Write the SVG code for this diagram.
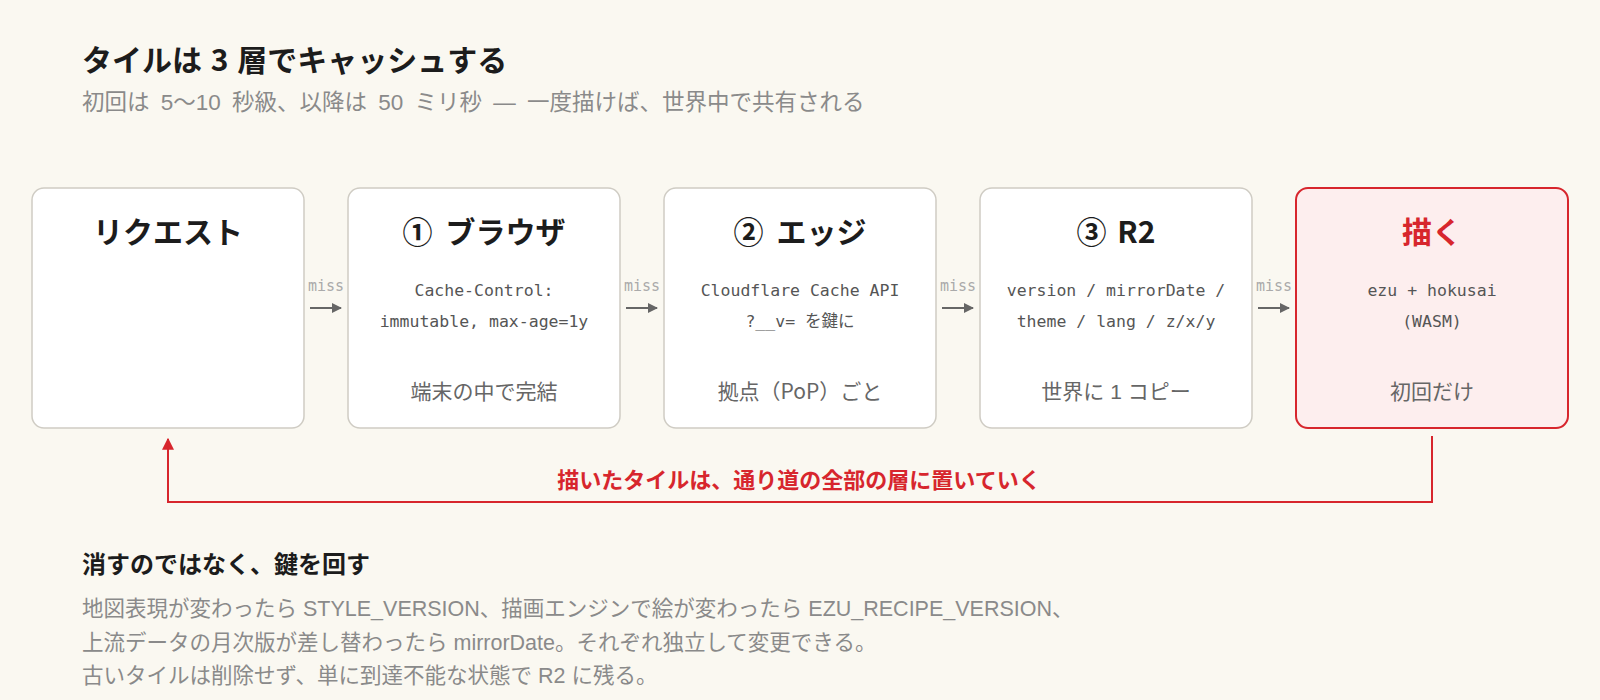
<svg xmlns="http://www.w3.org/2000/svg" width="1600" height="700" viewBox="0 0 1600 700">
<defs>
<style>
.jp{font-family:"Noto Sans CJK JP","Noto Sans",sans-serif}
.lat{font-family:"Liberation Sans","Noto Sans CJK JP",sans-serif}
.mono{font-family:"DejaVu Sans Mono","Noto Sans CJK JP",monospace}
.box{fill:#ffffff;stroke:#cfccc4;stroke-width:1.5}
.hot{fill:#fdeeee;stroke:#d7262d;stroke-width:2}
.ttl{font-size:30px;font-weight:700;fill:#1c1c1c;text-anchor:middle}
.code{font-size:16.5px;fill:#555;text-anchor:middle}
.foot{font-size:21px;fill:#666;text-anchor:middle}
.miss{font-size:15px;fill:#aaa;text-anchor:middle}
.arr{stroke:#666;stroke-width:2;fill:none}
.body{font-size:21.5px;fill:#8a8a8a}
</style>
<marker id="ah" viewBox="0 0 10 10" refX="9" refY="5" markerWidth="10" markerHeight="10" markerUnits="userSpaceOnUse" orient="auto"><path d="M0,0 L10,5 L0,10 z" fill="#666"/></marker>
<marker id="rh" viewBox="0 0 10 10" refX="9" refY="5" markerWidth="12" markerHeight="12" markerUnits="userSpaceOnUse" orient="auto"><path d="M0,0 L10,5 L0,10 z" fill="#d7262d"/></marker>
</defs>
<rect width="1600" height="700" fill="#faf8f1"/>
<text class="jp" x="82" y="71" font-size="30" font-weight="700" fill="#1c1c1c" word-spacing="2">タイルは 3 層でキャッシュする</text>
<text class="lat" x="82" y="110" font-size="22.5" fill="#8a8a8a" word-spacing="5">初回は 5〜10 秒級、以降は 50 ミリ秒 — 一度描けば、世界中で共有される</text>

<g id="request">
<rect class="box" x="32" y="188" width="272" height="240" rx="12"/>
<text class="jp ttl" x="168" y="243">リクエスト</text>
</g>
<g id="browser">
<rect class="box" x="348" y="188" width="272" height="240" rx="12"/>
<text class="jp ttl" x="484" y="243" word-spacing="6">① ブラウザ</text>
<text class="mono code" x="484" y="296">Cache-Control:</text>
<text class="mono code" x="484" y="327">immutable, max-age=1y</text>
<text class="jp foot" x="484" y="399">端末の中で完結</text>
</g>
<g id="edge">
<rect class="box" x="664" y="188" width="272" height="240" rx="12"/>
<text class="jp ttl" x="800" y="243" word-spacing="6">② エッジ</text>
<text class="mono code" x="800" y="296">Cloudflare Cache API</text>
<text class="mono code" x="800" y="327">?__v= を鍵に</text>
<text class="jp foot" x="800" y="399">拠点（PoP）ごと</text>
</g>
<g id="r2">
<rect class="box" x="980" y="188" width="272" height="240" rx="12"/>
<text class="jp ttl" x="1116" y="243" word-spacing="4">③ R2</text>
<text class="mono code" x="1116" y="296">version / mirrorDate /</text>
<text class="mono code" x="1116" y="327">theme / lang / z/x/y</text>
<text class="lat foot" x="1116" y="399">世界に 1 コピー</text>
</g>
<g id="draw">
<rect class="hot" x="1296" y="188" width="272" height="240" rx="12"/>
<text class="jp ttl" x="1432" y="243" style="fill:#d7262d">描く</text>
<text class="mono code" x="1432" y="296">ezu + hokusai</text>
<text class="mono code" x="1432" y="327">(WASM)</text>
<text class="jp foot" x="1432" y="399">初回だけ</text>
</g>

<g id="connectors">
<text class="mono miss" x="326" y="291">miss</text>
<line class="arr" x1="310" y1="308" x2="341" y2="308" marker-end="url(#ah)"/>
<text class="mono miss" x="642" y="291">miss</text>
<line class="arr" x1="626" y1="308" x2="657" y2="308" marker-end="url(#ah)"/>
<text class="mono miss" x="958" y="291">miss</text>
<line class="arr" x1="942" y1="308" x2="973" y2="308" marker-end="url(#ah)"/>
<text class="mono miss" x="1274" y="291">miss</text>
<line class="arr" x1="1258" y1="308" x2="1289" y2="308" marker-end="url(#ah)"/>
<polyline points="1432,436 1432,502 168,502 168,439" fill="none" stroke="#d7262d" stroke-width="2" marker-end="url(#rh)"/>
<text class="jp" x="799" y="488" font-size="22" font-weight="700" fill="#d7262d" text-anchor="middle">描いたタイルは、通り道の全部の層に置いていく</text>
</g>

<text class="jp" x="82" y="573" font-size="24" font-weight="700" fill="#1c1c1c">消すのではなく、鍵を回す</text>
<text class="lat body" x="82" y="616">地図表現が変わったら STYLE_VERSION、描画エンジンで絵が変わったら EZU_RECIPE_VERSION、</text>
<text class="lat body" x="82" y="650">上流データの月次版が差し替わったら mirrorDate。それぞれ独立して変更できる。</text>
<text class="lat body" x="82" y="683">古いタイルは削除せず、単に到達不能な状態で R2 に残る。</text>
</svg>
